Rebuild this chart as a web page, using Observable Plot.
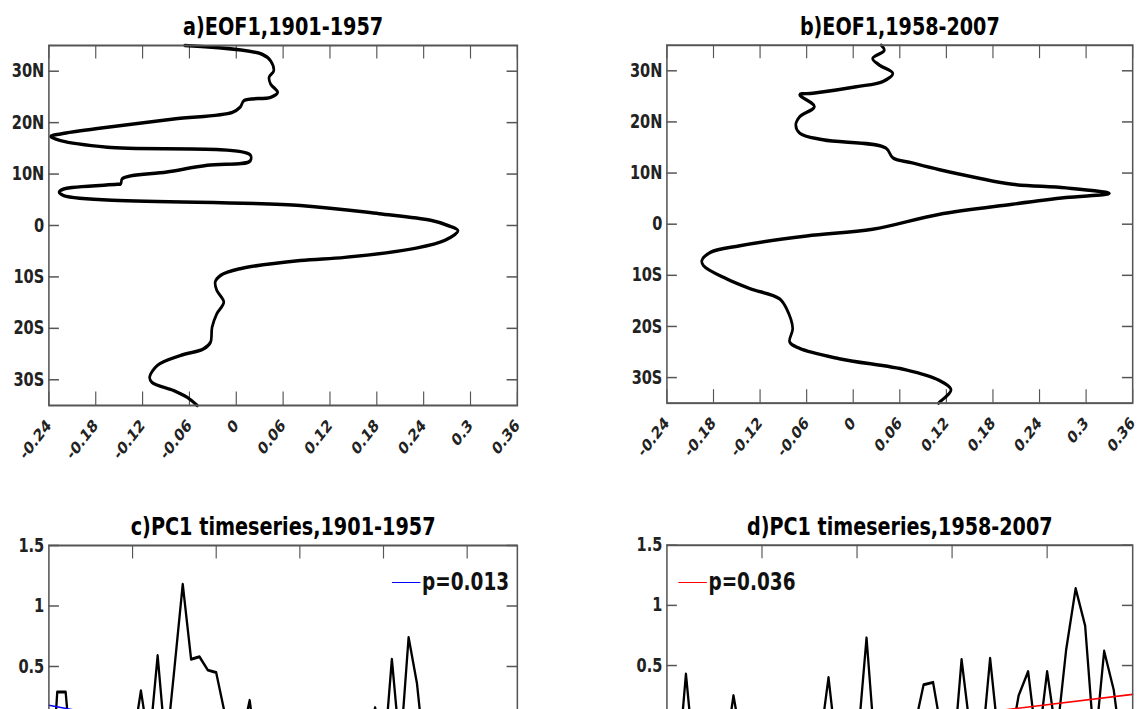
<!DOCTYPE html>
<html><head><meta charset="utf-8">
<script src="https://cdn.jsdelivr.net/npm/d3@7"></script>
<script src="https://cdn.jsdelivr.net/npm/@observablehq/plot@0.6"></script>
<style>
html,body{margin:0;padding:0;background:#fff;overflow:hidden;width:1147px;height:709px;}
#fig{position:absolute;left:0;top:0;width:1490px;height:980px;transform:scaleX(0.77);transform-origin:0 0;font-family:"DejaVu Sans",sans-serif;}
.panel{position:absolute;}
.legend{position:absolute;display:flex;align-items:center;font:bold 24px "DejaVu Sans";line-height:1;color:#111;white-space:nowrap;}
.legend .sw{display:inline-block;width:37px;height:0;border-top:1.6px solid;margin-right:2px;}
</style></head><body><div id="fig"></div>
<script>
// ---------- DATA ----------
// EOF1 1901-1957 (latitude, loading)
const eofALat = [35, 33.3, 32, 30.1, 28.8, 27.5, 25.9, 24.9, 24.3, 23, 22, 20.7, 19.1, 17.8, 17.3, 16.5, 15.2, 13.7, 12.6, 11.7, 10.4, 9.1, 8.1, 8.0, 7.1, 6.5, 5.8, 3.9, 2.3, 1, 0, -1, -2.9, -4.5, -6.2, -6.8, -8.4, -9.7, -11, -12.6, -14.9, -17.2, -19.8, -22.7, -24, -25.3, -27.2, -29.5, -30.5, -32.1, -33.4, -35];
const eofAVal = [-0.066, 0.033, 0.044, 0.048, 0.042, 0.044, 0.053, 0.044, 0.010, 0.005, -0.005, -0.080, -0.165, -0.225, -0.238, -0.225, -0.165, 0.018, 0.018, -0.037, -0.089, -0.146, -0.148, -0.153, -0.221, -0.227, -0.221, 0.082, 0.183, 0.249, 0.271, 0.284, 0.267, 0.227, 0.139, 0.082, 0.005, -0.020, -0.027, -0.025, -0.016, -0.025, -0.031, -0.033, -0.042, -0.072, -0.101, -0.111, -0.108, -0.080, -0.063, -0.050];
// EOF1 1958-2007
const eofBLat = [35, 34, 32.4, 31.1, 29.5, 27.9, 26.9, 25.6, 25.3, 23, 21, 19.4, 17.8, 16.5, 14.9, 13, 12, 10.7, 9.1, 7.8, 7.1, 6, 5.2, 3.9, 1.9, -1, -2.3, -4.2, -5.5, -7.1, -8.1, -10.7, -12.6, -14.6, -16.5, -20.4, -23, -24.3, -26.3, -28.5, -30.5, -32.4, -34.7, -35];
const eofBVal = [0.036, 0.040, 0.025, 0.034, 0.051, 0.038, 0.004, -0.052, -0.069, -0.050, -0.069, -0.074, -0.069, -0.039, 0.042, 0.051, 0.076, 0.110, 0.159, 0.205, 0.274, 0.330, 0.274, 0.205, 0.110, 0.025, -0.060, -0.146, -0.184, -0.195, -0.193, -0.163, -0.133, -0.095, -0.086, -0.078, -0.082, -0.069, -0.018, 0.068, 0.110, 0.126, 0.112, 0.110];

// PC1 time series
const pcCYears = [1901,1902,1903,1904,1905,1906,1907,1908,1909,1910,1911,1912,1913,1914,1915,1916,1917,1918,1919,1920,1921,1922,1923,1924,1925,1926,1927,1928,1929,1930,1931,1932,1933,1934,1935,1936,1937,1938,1939,1940,1941,1942,1943,1944,1945,1946,1947,1948,1949,1950,1951,1952,1953,1954,1955,1956,1957];
const pcCVals = [-0.8, 0.29, 0.29, -0.5, -0.2, -0.6, -0.4, -0.9, -0.3, -0.5, -0.15, 0.30, -0.15, 0.59, -0.2, 0.48, 1.18, 0.56, 0.58, 0.47, 0.45, 0.12, -0.4, -0.1, 0.22, -0.3, -0.5, -0.1, -0.7, -0.3, -0.6, -0.2, -0.4, -0.8, -0.3, -0.5, -0.2, -0.6, -0.1, 0.16, -0.3, 0.56, -0.2, 0.74, 0.36, -0.3, -0.5, -0.2, -0.7, -0.4, -0.9, -0.3, -0.6, -1.0, -0.5, -0.8, -0.4];
const pcDYears = [1958,1959,1960,1961,1962,1963,1964,1965,1966,1967,1968,1969,1970,1971,1972,1973,1974,1975,1976,1977,1978,1979,1980,1981,1982,1983,1984,1985,1986,1987,1988,1989,1990,1991,1992,1993,1994,1995,1996,1997,1998,1999,2000,2001,2002,2003,2004,2005,2006,2007];
const pcDVals = [-0.3, -0.5, 0.43, -0.4, -0.2, -0.6, -0.3, 0.25, -0.2, -0.5, -0.3, -0.7, -0.4, -0.1, -0.6, -0.3, -0.2, 0.40, -0.3, -0.5, -0.2, 0.73, -0.3, -0.6, -0.2, -0.4, -0.03, 0.34, 0.36, -0.1, -0.4, 0.55, -0.1, -0.3, 0.56, -0.2, -0.2, 0.25, 0.45, -0.2, 0.45, -0.1, 0.63, 1.14, 0.83, -0.2, 0.62, 0.30, -0.3, 0.05];
// linear trends (end points)
const trendCYears = [1901, 1957];
const trendCVals = [0.18, -0.55];
const trendDYears = [1958, 2007];
const trendDVals = [-0.21, 0.26];

// ticks and labels
const eofXTicks = [-0.24, -0.18, -0.12, -0.06, 0, 0.06, 0.12, 0.18, 0.24, 0.3, 0.36];
const eofXLabels = ["-0.24", "-0.18", "-0.12", "-0.06", "0", "0.06", "0.12", "0.18", "0.24", "0.3", "0.36"];
const latTicks = [-30, -20, -10, 0, 10, 20, 30];
const latLabels = ["30S", "20S", "10S", "0", "10N", "20N", "30N"];
const pcYTicks = [-1.5, -1, -0.5, 0, 0.5, 1, 1.5];
const pcYLabelTicks = [0.5, 1, 1.5];            // the labels visible in the cropped figure
const pcYLabels = ["0.5", "1", "1.5"];
const pcCXTicks = [1911, 1921, 1931, 1941, 1951];
const pcDXTicks = [1968, 1978, 1988, 1998];
const titles = ["a)EOF1,1901-1957", "b)EOF1,1958-2007", "c)PC1 timeseries,1901-1957", "d)PC1 timeseries,1958-2007"];
const legendLabels = ["p=0.013", "p=0.036"];
const legendColors = ["#0000ff", "#ff0000"];

// ---------- DRAWING ----------
const FONT = "DejaVu Sans";
const frameW = 608.4;
const mL = 63, mT = 45, mR = 20, mB = 80;
const TICK = 13.5;
const AXIS_GRAY = "#555";
const fig = document.getElementById("fig");

function labeler(ticks, labels) {
  const m = new Map(ticks.map((t, i) => [t, labels[i]]));
  return d => m.has(d) ? m.get(d) : String(d);
}

function innerTicks(xTicks, yTicks, frameH) {
  const st = {stroke: AXIS_GRAY, strokeWidth: 1.5};
  return [
    Plot.tickX(xTicks, {x: d => d, insetBottom: frameH - TICK, ...st}),
    Plot.tickX(xTicks, {x: d => d, insetTop: frameH - TICK, ...st}),
    Plot.tickY(yTicks, {y: d => d, insetRight: frameW - TICK, ...st}),
    Plot.tickY(yTicks, {y: d => d, insetLeft: frameW - TICK, ...st})
  ];
}

function titleMark(t) {
  return Plot.text([t], {text: d => d, frameAnchor: "top", dy: -10, lineAnchor: "bottom",
    fontSize: 25, fontWeight: "bold", fontFamily: FONT, fill: "#000"});
}

function eofPlot(lat, val, title) {
  const frameH = 360;
  const data = lat.map((l, i) => ({lat: l, v: val[i]}));
  return Plot.plot({
    width: mL + frameW + mR, height: mT + frameH + mB,
    marginLeft: mL, marginTop: mT, marginRight: mR, marginBottom: mB,
    style: {fontFamily: FONT, background: "transparent", overflow: "visible"},
    x: {domain: [-0.24, 0.36], label: null},
    y: {domain: [-35, 35], label: null},
    marks: [
      ...innerTicks(eofXTicks, latTicks, frameH),
      Plot.line(data, {x: "v", y: "lat", stroke: "#000", strokeWidth: 3.5, strokeLinejoin: "round", curve: "catmull-rom"}),
      Plot.frame({stroke: AXIS_GRAY, strokeWidth: 2}),
      Plot.axisX({ticks: eofXTicks, tickFormat: labeler(eofXTicks, eofXLabels), tickRotate: -45,
        tickSize: 0, tickPadding: 17, fontSize: 17, fontWeight: "bold", fill: "#222", label: null}),
      Plot.axisY({ticks: latTicks, tickFormat: labeler(latTicks, latLabels), tickSize: 0,
        tickPadding: 6, fontSize: 19, fontWeight: "bold", fill: "#222", label: null}),
      titleMark(title)
    ]
  });
}

function pcPlot(years, vals, tYears, tVals, color, xTicks, title) {
  const frameH = 363;
  const data = years.map((y, i) => ({year: y, v: vals[i]}));
  const trend = tYears.map((y, i) => ({year: y, v: tVals[i]}));
  return Plot.plot({
    width: mL + frameW + mR, height: mT + frameH + mB,
    marginLeft: mL, marginTop: mT, marginRight: mR, marginBottom: mB,
    style: {fontFamily: FONT, background: "transparent", overflow: "visible"},
    x: {domain: [years[0], years[years.length - 1]], label: null, axis: null},
    y: {domain: [-1.5, 1.5], label: null},
    marks: [
      ...innerTicks(xTicks, pcYTicks, frameH),
      Plot.line(data, {x: "year", y: "v", stroke: "#000", strokeWidth: 3, strokeLinejoin: "round"}),
      Plot.line(trend, {x: "year", y: "v", stroke: color, strokeWidth: 1.6}),
      Plot.frame({stroke: AXIS_GRAY, strokeWidth: 2}),
      Plot.axisY({ticks: pcYLabelTicks, tickFormat: labeler(pcYLabelTicks, pcYLabels), tickSize: 0,
        tickPadding: 6, fontSize: 19, fontWeight: "bold", fill: "#222", label: null}),
      titleMark(title)
    ]
  });
}

function place(node, left, top) {
  const d = document.createElement("div");
  d.className = "panel";
  d.style.left = left + "px";
  d.style.top = top + "px";
  d.appendChild(node);
  fig.appendChild(d);
}

const colB = 802.6;
place(eofPlot(eofALat, eofAVal, titles[0]), 0, 0);
place(eofPlot(eofBLat, eofBVal, titles[1]), colB, 0);
place(pcPlot(pcCYears, pcCVals, trendCYears, trendCVals, legendColors[0], pcCXTicks, titles[2]), 0, 500);
place(pcPlot(pcDYears, pcDVals, trendDYears, trendDVals, legendColors[1], pcDXTicks, titles[3]), colB, 500);

function legend(label, color, left, top) {
  const d = document.createElement("div");
  d.className = "legend";
  d.style.left = left + "px";
  d.style.top = top + "px";
  const sw = document.createElement("span");
  sw.className = "sw";
  sw.style.borderTopColor = color;
  const t = document.createElement("span");
  t.textContent = label;
  d.appendChild(sw);
  d.appendChild(t);
  fig.appendChild(d);
}
legend(legendLabels[0], legendColors[0], 509, 570);
legend(legendLabels[1], legendColors[1], 881, 570);
</script>
</body></html>
